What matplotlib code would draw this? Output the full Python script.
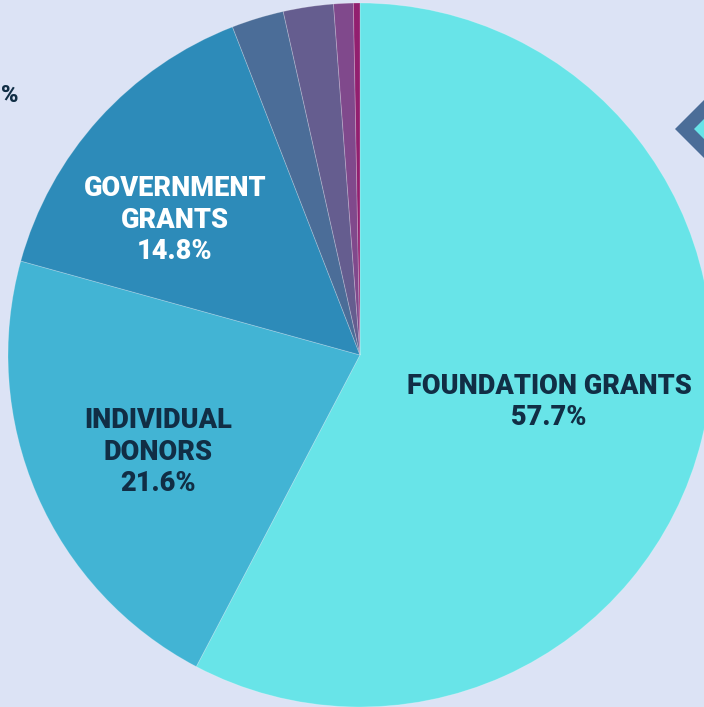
import matplotlib.pyplot as plt
from matplotlib.patches import Polygon

# revenue shares, clockwise from 12 o'clock
categories = ['FOUNDATION GRANTS', 'INDIVIDUAL\nDONORS', 'GOVERNMENT\nGRANTS',
              'Other 1', 'Other 2', 'Other 3', 'Other 4']
shares = [57.7, 21.6, 14.8, 2.4, 2.3, 0.9, 0.3]
colors = ['#68e4e8', '#42b4d4', '#2d8bb9', '#4b6d98', '#655d8f', '#80498c', '#921f6f']

bg = '#dce3f5'
dark = '#112e45'

plt.rcParams['font.family'] = ['Roboto', 'DejaVu Sans']

fig = plt.figure(figsize=(7.04, 7.07), dpi=100)
fig.patch.set_facecolor(bg)
ax = fig.add_axes([0, 0, 1, 1])
ax.set_facecolor(bg)

# work in pixel units, y going up
cx, cy, r = 360, 707 - 355, 352
ax.pie(shares, colors=colors, startangle=90, counterclock=False,
       center=(cx, cy), radius=r, frame=True,
       wedgeprops=dict(edgecolor=(1, 1, 1, 0.25), linewidth=0.6))

ax.set_xlim(0, 704)
ax.set_ylim(0, 707)
ax.set_aspect('equal')
ax.axis('off')

# labels on the three big slices
lab = dict(ha='center', va='center', fontsize=19.5, fontweight='black', linespacing=1.22)
ax.text(549, 707 - 402, categories[0] + '\n%.1f%%' % shares[0], color=dark, **lab)
ax.text(158, 707 - 452, categories[1] + '\n%.1f%%' % shares[1], color=dark, **lab)
ax.text(175, 707 - 220, categories[2] + '\n%.1f%%' % shares[2], color='white', **lab)

# cut-off label at the left edge
ax.text(18, 707 - 95, '%', ha='right', va='center', fontsize=17, fontweight='black', color=dark)

# diamond marker at the right edge
dy0 = 707 - 129
outer = Polygon([(675, dy0), (738, dy0 + 63), (801, dy0), (738, dy0 - 63)],
                closed=True, facecolor='#4b6d98', edgecolor='none')
inner = Polygon([(694, dy0), (738, dy0 + 44), (782, dy0), (738, dy0 - 44)],
                closed=True, facecolor='#68e4e8', edgecolor='none')
ax.add_patch(outer)
ax.add_patch(inner)

fig.savefig('out.png', dpi=100, facecolor=bg)
